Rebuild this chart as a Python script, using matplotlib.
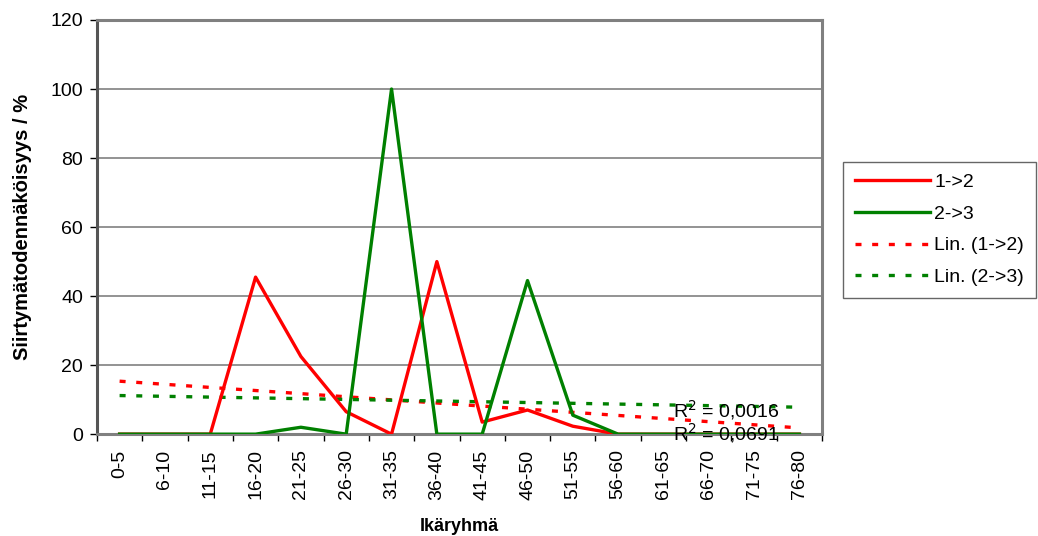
import numpy as np
import matplotlib.pyplot as plt

plt.rcParams["font.family"] = ["Liberation Sans", "DejaVu Sans"]

ikaryhmat = ["0-5", "6-10", "11-15", "16-20", "21-25", "26-30", "31-35", "36-40",
             "41-45", "46-50", "51-55", "56-60", "61-65", "66-70", "71-75", "76-80"]
siirtyma_12 = [0, 0, 0, 45.5, 22.5, 6.5, 0, 50, 3.5, 7, 2.3, 0, 0, 0, 0, 0]
siirtyma_23 = [0, 0, 0, 0, 2, 0, 100, 0, 0, 44.5, 5.5, 0, 0, 0, 0, 0]

x = np.arange(len(ikaryhmat))
xf = x + 1  # trendline fitted against 1..n like the spreadsheet


def lin_fit(y):
    y = np.asarray(y, dtype=float)
    k, b = np.polyfit(xf, y, 1)
    yhat = k * xf + b
    r2 = 1 - np.sum((y - yhat) ** 2) / np.sum((y - y.mean()) ** 2)
    return yhat, r2


trend_12, r2_12 = lin_fit(siirtyma_12)
trend_23, r2_23 = lin_fit(siirtyma_23)

fig = plt.figure(figsize=(10.38, 5.36), dpi=100)
ax = fig.add_axes([0.0934, 0.19, 0.6986, 0.7727])

red = "#ff0000"
green = "#008000"
ax.plot(x, siirtyma_12, color=red, lw=2.4, label="1->2", zorder=4)
ax.plot(x, siirtyma_23, color=green, lw=2.4, label="2->3", zorder=4)
ax.plot(x, trend_12, color=red, lw=2.4, dashes=(1.8, 3.2), label="Lin. (1->2)", zorder=3)
ax.plot(x, trend_23, color=green, lw=2.4, dashes=(1.8, 3.2), label="Lin. (2->3)", zorder=3)

ax.set_xlim(-0.5, len(ikaryhmat) - 0.5)
ax.set_ylim(0, 120)
ax.set_yticks(np.arange(0, 121, 20))
ax.yaxis.grid(True, color="#808080", lw=1.2)
ax.set_axisbelow(True)

ax.set_xticks(x)
ax.set_xticklabels(ikaryhmat, rotation=90, fontsize=14)
ax.set_xticks(np.arange(-0.5, len(ikaryhmat), 1), minor=True)
ax.tick_params(axis="x", which="major", length=0, pad=11)
ax.tick_params(axis="x", which="minor", length=5, width=1, color="black")
ax.tick_params(axis="y", length=5, width=1, labelsize=14, pad=5)

for s in ["top", "right", "bottom", "left"]:
    ax.spines[s].set_color("#808080")
    ax.spines[s].set_linewidth(2.2)
ax.spines["left"].set_color("#555555")

ax.set_ylabel("Siirtymätodennäköisyys / %", fontsize=14.5, fontweight="bold", labelpad=13)
ax.set_xlabel("Ikäryhmä", fontsize=13, fontweight="bold", labelpad=13,
              family=["Liberation Sans Narrow", "Liberation Sans"])

# R² values of the trendlines
ax.text(12.2, 5.0, "R$^2$ = " + f"{r2_23:.4f}".replace(".", ","), fontsize=14,
        va="baseline", zorder=5, clip_on=False)
ax.text(12.2, -1.9, "R$^2$ = " + f"{r2_12:.4f}".replace(".", ","), fontsize=14,
        va="baseline", zorder=5, clip_on=False)

leg = fig.legend(loc="upper left", bbox_to_anchor=(0.812, 0.698), fontsize=14,
                 frameon=True, fancybox=False, edgecolor="#404040", handlelength=3.9,
                 handletextpad=0.2, labelspacing=0.72, borderpad=0.6, borderaxespad=0)
leg.get_frame().set_linewidth(1)

fig.savefig("out.png", dpi=100)
